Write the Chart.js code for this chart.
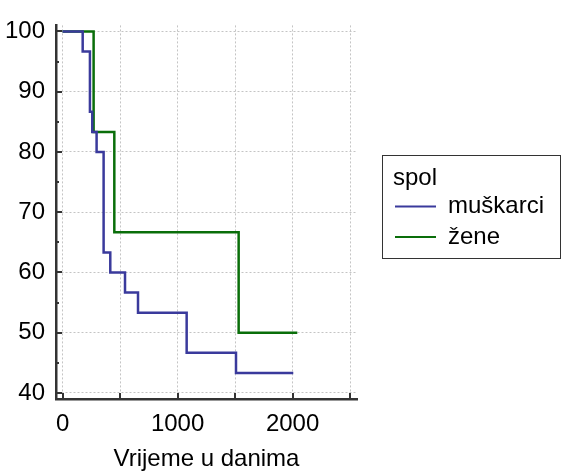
<!DOCTYPE html>
<html>
<head>
<meta charset="utf-8">
<script src="https://cdn.jsdelivr.net/npm/chart.js@4/dist/chart.umd.min.js"></script>
<style>
    html, body { margin: 0; padding: 0; background: #fff; }
    #wrap { width: 561px; height: 474px; position: relative; }
</style>
</head>
<body>
<div id="wrap"><canvas id="survivalChart"></canvas></div>
<script>
// Kaplan-Meier steps: day of the event and the survival (%) after it
const maleDays = [0, 175, 238, 258, 296, 357, 415, 543, 656, 1079, 1508, 2006];
const maleSurvival = [100, 96.67, 86.67, 83.33, 80, 63.33, 60, 56.67, 53.33, 46.67, 43.33, 43.33];
const femaleDays = [0, 270, 450, 1531, 2041];
const femaleSurvival = [100, 83.33, 66.67, 50, 50];

const seriesLabels = ['muškarci', 'žene'];
const legendTitle = 'spol';
const xTitle = 'Vrijeme u danima';

const xTicks = [0, 500, 1000, 1500, 2000, 2500];
const xTickLabels = ['0', '', '1000', '', '2000', ''];
const yTicks = [40, 50, 60, 70, 80, 90, 100];
const yMinorTicks = [45, 55, 65, 75, 85, 95];

const FONT = "'Liberation Sans', Arial, sans-serif";
const FONT_SIZE = 24;
const BLUE = '#3a3a9c';
const GREEN = '#0a6e0a';

function toPoints(days, values) {
    return days.map((d, i) => ({ x: d, y: values[i] }));
}

// Tick marks point into the plot, so they are drawn by hand
const innerTicks = {
    id: 'innerTicks',
    afterDatasetsDraw(chart) {
        const { ctx, chartArea, scales: { x, y } } = chart;
        ctx.save();
        ctx.strokeStyle = '#333';
        ctx.lineWidth = 2;
        ctx.beginPath();
        xTicks.forEach(v => {
            const px = Math.round(x.getPixelForValue(v));
            ctx.moveTo(px, chartArea.bottom);
            ctx.lineTo(px, chartArea.bottom - 6);
        });
        yTicks.forEach(v => {
            const py = Math.round(y.getPixelForValue(v));
            ctx.moveTo(chartArea.left, py);
            ctx.lineTo(chartArea.left + 6, py);
        });
        yMinorTicks.forEach(v => {
            const py = Math.round(y.getPixelForValue(v));
            ctx.moveTo(chartArea.left, py);
            ctx.lineTo(chartArea.left + 3, py);
        });
        ctx.stroke();
        ctx.restore();
    }
};

// Boxed legend with a title, to the right of the plot
const boxLegend = {
    id: 'boxLegend',
    afterDraw(chart) {
        const { ctx } = chart;
        const left = 382, top = 155, right = 560, bottom = 258;
        ctx.save();
        ctx.strokeStyle = '#333';
        ctx.lineWidth = 1;
        ctx.strokeRect(left + 0.5, top + 0.5, right - left, bottom - top);

        ctx.font = FONT_SIZE + 'px ' + FONT;
        ctx.fillStyle = '#000';
        ctx.textAlign = 'left';
        ctx.textBaseline = 'middle';
        ctx.fillText(legendTitle, 393, 178);

        chart.data.datasets.forEach((ds, i) => {
            const cy = 206.5 + i * 30.5;
            ctx.strokeStyle = ds.borderColor;
            ctx.lineWidth = 2;
            ctx.beginPath();
            ctx.moveTo(395, cy);
            ctx.lineTo(436, cy);
            ctx.stroke();
            ctx.fillText(ds.label, 448, cy);
        });
        ctx.restore();
    }
};

const gridStyle = { color: '#c4c4c4', lineWidth: 1, drawTicks: false };
const borderStyle = { display: true, color: '#333', width: 2.5, dash: [2, 2] };

new Chart(document.getElementById('survivalChart'), {
    type: 'line',
    data: {
        datasets: [{
            label: seriesLabels[0],
            data: toPoints(maleDays, maleSurvival),
            borderColor: BLUE,
            borderWidth: 2.5,
            stepped: 'before',
            pointRadius: 0,
            fill: false
        }, {
            label: seriesLabels[1],
            data: toPoints(femaleDays, femaleSurvival),
            borderColor: GREEN,
            borderWidth: 2.5,
            stepped: 'before',
            pointRadius: 0,
            fill: false
        }]
    },
    options: {
        responsive: true,
        maintainAspectRatio: false,
        animation: false,
        layout: {
            padding: { top: 15, right: 204, left: 0, bottom: 0 }
        },
        plugins: {
            legend: { display: false },
            tooltip: { enabled: false }
        },
        scales: {
            x: {
                type: 'linear',
                min: -57,
                max: 2560,
                afterBuildTicks: (scale) => {
                    scale.ticks = xTicks.map(v => ({ value: v }));
                },
                afterFit: (scale) => { scale.height = 75; },
                grid: gridStyle,
                border: borderStyle,
                ticks: {
                    autoSkip: false,
                    maxRotation: 0,
                    padding: 11,
                    color: '#000',
                    font: { family: FONT, size: FONT_SIZE },
                    callback: (value) => xTickLabels[xTicks.indexOf(value)] ?? ''
                },
                title: {
                    display: true,
                    text: xTitle,
                    color: '#000',
                    font: { family: FONT, size: FONT_SIZE },
                    padding: { top: 0, bottom: 0 }
                }
            },
            y: {
                type: 'linear',
                min: 39,
                max: 101,
                afterBuildTicks: (scale) => {
                    scale.ticks = yTicks.map(v => ({ value: v }));
                },
                afterFit: (scale) => { scale.width = 56; },
                grid: gridStyle,
                border: borderStyle,
                ticks: {
                    padding: 11,
                    color: '#000',
                    font: { family: FONT, size: FONT_SIZE }
                }
            }
        }
    },
    plugins: [innerTicks, boxLegend]
});
</script>
</body>
</html>
